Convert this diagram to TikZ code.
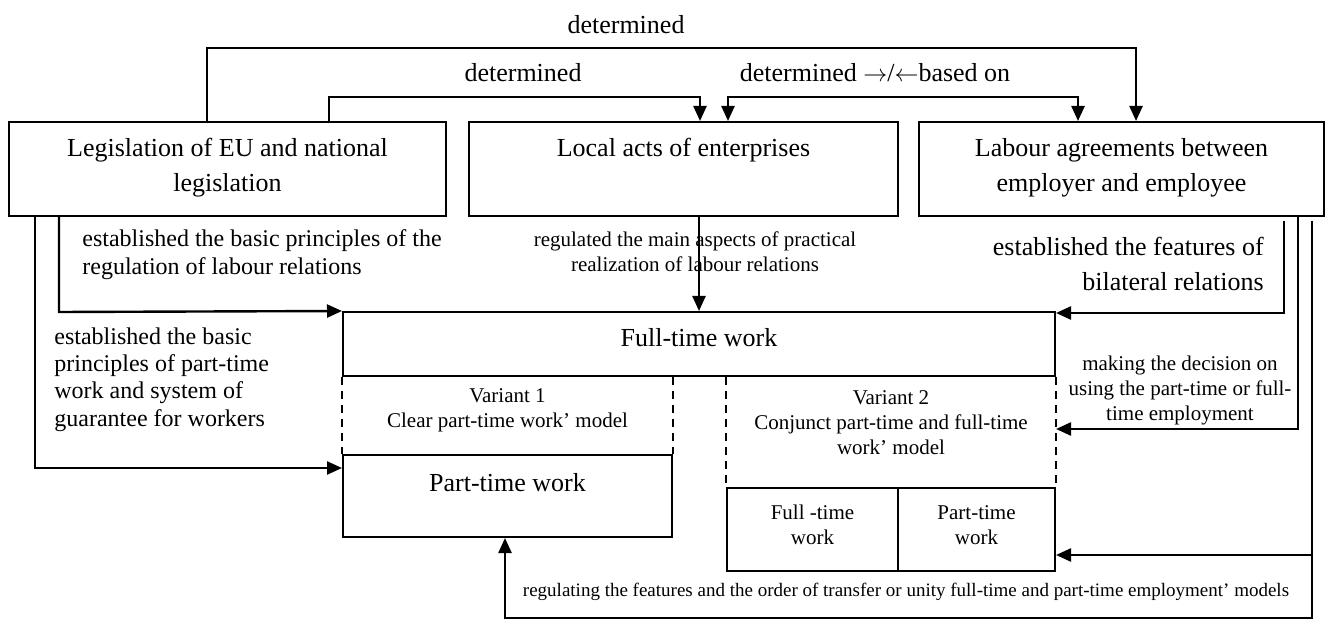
\documentclass[tikz,border=0pt]{standalone}
\usepackage{fontspec}
\setmainfont{Liberation Serif}
\usetikzlibrary{arrows.meta}
\newcommand{\fbig}{\fontsize{13}{17.5}\selectfont}
\newcommand{\flab}{\fontsize{12}{13.7}\selectfont}
\newcommand{\fsub}{\fontsize{10.5}{12.5}\selectfont}
\newcommand{\ftiny}{\fontsize{9.5}{11}\selectfont}
\begin{document}
\begin{tikzpicture}[x=0.5pt, y=-0.5pt, line join=miter, >={Triangle[length=7.5pt,width=6.5pt]},
	box/.style={draw, line width=1pt, inner sep=0pt},
	txt/.style={inner sep=0pt, align=center},
	arr/.style={->, line width=1.2pt},
	dsh/.style={dashed, line width=0.8pt, dash pattern=on 4pt off 3pt}]
	\useasboundingbox (0,0) rectangle (1325,619);
	% boxes
	\node[box, minimum width=218.5pt, minimum height=47pt] (leg) at (227.5,169) {};
	\node[box, minimum width=214.5pt, minimum height=47pt] (loc) at (683.5,169) {};
	\node[box, minimum width=202.5pt, minimum height=47pt] (lab) at (1121.5,169) {};
	\node[box, minimum width=356pt, minimum height=32pt] (full) at (699,344) {};
	\node[box, minimum width=164.5pt, minimum height=41pt] (part) at (507.5,496) {};
	\node[box, minimum width=85.5pt, minimum height=41.5pt] (sfull) at (812.5,529.5) {};
	\node[box, minimum width=78.5pt, minimum height=41.5pt] (spart) at (976.5,529.5) {};
	% texts of the boxes
	\node[txt, font=\fbig] (tleg) at (227.5,168) {Legislation of EU and national\\legislation};
	\node[txt, font=\fbig] (tloc) at (683.5,150) {Local acts of enterprises};
	\node[txt, font=\fbig] (tlab) at (1121.5,168) {Labour agreements between\\employer and employee};
	\node[txt, font=\fbig] (tfull) at (699,338) {Full-time work};
	\node[txt, font=\fbig] (tpart) at (507.5,483) {Part-time work};
	\node[txt, font=\fsub] (tsfull) at (812.5,525) {Full -time\\work};
	\node[txt, font=\fsub] (tspart) at (976.5,525) {Part-time\\work};
	\node[txt, font=\fsub] (var1) at (507.5,410.5) {Variant 1\\Clear part-time work' model};
	\node[txt, font=\fsub] (var2) at (891,423) {Variant 2\\Conjunct part-time and full-time\\work' model};
	% dashed sides of the variants
	\draw[dsh] (full.south west) -- (part.north west);
	\draw[dsh] (full.south -| part.east) -- (part.north east);
	\draw[dsh] (full.south -| sfull.west) -- (sfull.north west);
	\draw[dsh] (full.south east) -- (spart.north east);
	% top connectors
	\coordinate (d1) at (207,48);
	\coordinate (d1e) at (1136,48);
	\coordinate (d2) at (329,97);
	\coordinate (d2e) at (700,97);
	\coordinate (d3) at (728,97);
	\coordinate (d3e) at (1078,97);
	\draw[arr] (leg.north -| d1) -- (d1) -- (d1e) -- (lab.north -| d1e);
	\draw[arr] (leg.north -| d2) -- (d2) -- (d2e) -- (loc.north -| d2e);
	\draw[arr, <->] (loc.north -| d3) -- (d3) -- (d3e) -- (lab.north -| d3e);
	\node[txt, font=\fbig] (det1) at (626,25) {determined};
	\node[txt, font=\fbig] (det2) at (523,73) {determined};
	\node[txt, font=\fbig] (det3) at (875,73) {determined $\rightarrow$/$\leftarrow$based on};
	% left connectors
	\coordinate (l1) at (59,312);
	\coordinate (l2) at (35,468);
	\draw[arr] (leg.south -| l1) -- (l1) -- (full.north west);
	\draw[arr] (leg.south -| l2) -- (l2) -- (part.west |- l2);
	\node[txt, font=\flab, align=left, anchor=west] (est1) at (82,254.5) {established the basic principles of the\\regulation of labour relations};
	\node[txt, font=\flab, align=left, anchor=west] (est2) at (54,379.5) {established the basic\\principles of part-time\\work and system of\\guarantee for workers};
	% middle connector
	\draw[arr] (loc.south -| full.north) -- (full.north);
	\node[txt, font=\fsub] (regm) at (695,251.5) {regulated the main aspects of practical\\realization of labour relations};
	% right connectors
	\coordinate (r1) at (1284,313);
	\coordinate (r2) at (1298,429);
	\coordinate (r3) at (1312,555);
	\coordinate (b1) at (1312,618);
	\coordinate (b2) at (505,618);
	\draw[arr, shorten <=2pt] (lab.south -| r1) -- (r1) -- (full.east |- r1);
	\draw[arr] (lab.south -| r2) -- (r2) -- (full.east |- r2);
	\draw[arr, shorten <=2pt] (lab.south -| r3) -- (r3) -- (spart.east |- r3);
	\draw[arr] (r3) -- (b1) -- (b2) -- (part.south -| b2);
	\node[txt, font=\fbig, align=right, anchor=east] (est3) at (1264,263.5) {established the features of\\bilateral relations};
	\node[txt, font=\fsub] (mkd) at (1180,390) {making the decision on\\using the part-time or full-\\time employment};
	\node[txt, font=\ftiny] (regb) at (906,592) {regulating the features and the order of transfer or unity full-time and part-time employment' models};
\end{tikzpicture}
\end{document}
